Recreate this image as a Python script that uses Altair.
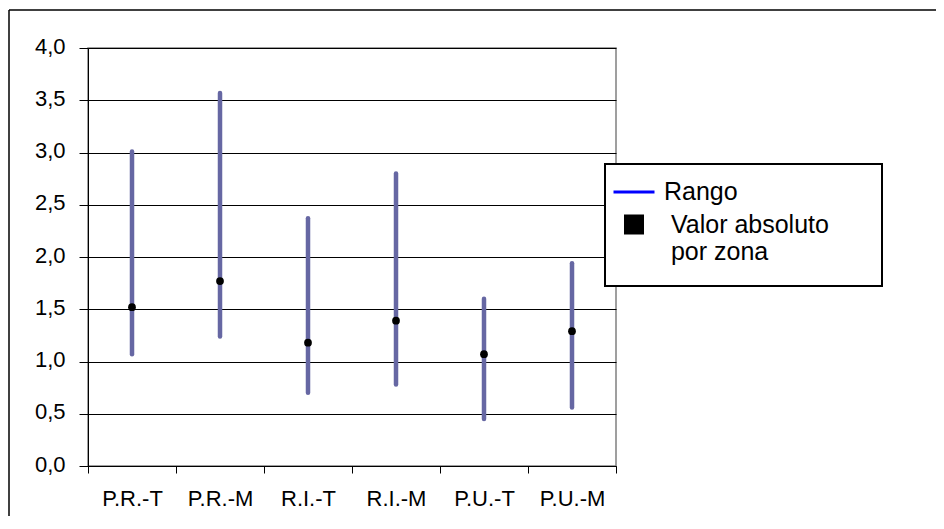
import altair as alt
import pandas as pd

# ---- data ----
categorias = ["P.R.-T", "P.R.-M", "R.I.-T", "R.I.-M", "P.U.-T", "P.U.-M"]
rango_min = [1.07, 1.24, 0.70, 0.78, 0.45, 0.56]
rango_max = [3.01, 3.57, 2.37, 2.80, 1.60, 1.94]
valor_absoluto = [1.52, 1.77, 1.18, 1.39, 1.07, 1.29]
series_leyenda = ["Rango", "Valor absoluto por zona"]
y_ticks = [0.0, 0.5, 1.0, 1.5, 2.0, 2.5, 3.0, 3.5, 4.0]

FONT = "Liberation Sans"
NB = "\u00a0"
ZW = "\u200b"

df = pd.DataFrame({"zona": categorias, "min": rango_min, "max": rango_max,
                   "valor": valor_absoluto})
leg = pd.DataFrame({"serie": series_leyenda})
frame = pd.DataFrame({"k": [0]})

words = series_leyenda[1].split()
line1 = ZW + NB + " ".join(words[:2])
line2 = ZW + NB + " ".join(words[2:])
legend_expr = f"datum.label == '{series_leyenda[0]}' ? datum.label : ['{line1}', '{line2}']"

x_enc = alt.X("zona:N", sort=categorias,
              scale=alt.Scale(paddingInner=0, paddingOuter=0),
              axis=alt.Axis(title=None, labelAngle=0, labelFontSize=22, labelFont=FONT,
                            labelColor="black", tickBand="extent", tickSize=7,
                            tickColor="black", domainColor="black", labelPadding=15,
                            grid=False))
y_enc = alt.Y("min:Q", scale=alt.Scale(domain=[0, 4], nice=False),
              axis=alt.Axis(title=None, values=y_ticks,
                            labelExpr="replace(format(datum.value, '.1f'), '.', ',')",
                            labelFontSize=22, labelFont=FONT, labelColor="black",
                            tickSize=9, tickColor="black", domainColor="black",
                            labelPadding=14, labelOffset=-2, grid=True, gridColor="black",
                            gridWidth=1))

rules = alt.Chart(df).mark_rule(color="#6667A3", strokeWidth=4.5, strokeCap="round").encode(
    x=x_enc, y=y_enc, y2="max:Q")

points = alt.Chart(df).mark_circle(color="black", size=60, opacity=1).encode(
    x=alt.X("zona:N", sort=categorias), y="valor:Q")

# legend frame (decoration)
legend_box = alt.Chart(frame).mark_rect(fill="white", stroke="black", strokeWidth=2).encode(
    x=alt.value(517), x2=alt.value(794), y=alt.value(116), y2=alt.value(238))

leg_scale_fill = alt.Scale(domain=series_leyenda, range=["#0000FF", "black"])
legend_def = alt.Legend(title=None, orient="none", legendX=517, legendY=115,
                        labelExpr=legend_expr)
dummy = alt.Chart(leg).mark_point(opacity=0, filled=True, strokeWidth=3).encode(
    fill=alt.Fill("serie:N", scale=leg_scale_fill, legend=legend_def),
    stroke=alt.Stroke("serie:N", scale=leg_scale_fill, legend=legend_def),
    shape=alt.Shape("serie:N", scale=alt.Scale(domain=series_leyenda, range=["stroke", "square"]),
                    legend=legend_def),
    size=alt.Size("serie:N", scale=alt.Scale(domain=series_leyenda, range=[1681, 289]),
                  legend=legend_def),
)

top_border = alt.Chart(frame).mark_rule(color="black", strokeWidth=1.5).encode(
    x=alt.value(-79), x2=alt.value(900), y=alt.value(-38))
left_border = alt.Chart(frame).mark_rule(color="black", strokeWidth=1.5).encode(
    x=alt.value(-79), y=alt.value(-38), y2=alt.value(500))

chart = alt.layer(rules, points, legend_box, dummy, top_border, left_border).properties(
    width=528, height=418,
    background="white",
    autosize=alt.AutoSizeParams(type="none"),
    padding={"left": 80, "top": 40, "right": 320, "bottom": 50},
).configure_view(stroke="#808080", strokeWidth=1.5).configure_legend(
    padding=7,
    labelFont=FONT, labelFontSize=25, labelColor="black", labelOffset=8,
    symbolStrokeWidth=3, rowPadding=5, labelLimit=400, symbolOpacity=1,
)

chart.save("out.html", embed_options={"renderer": "svg", "actions": False})
